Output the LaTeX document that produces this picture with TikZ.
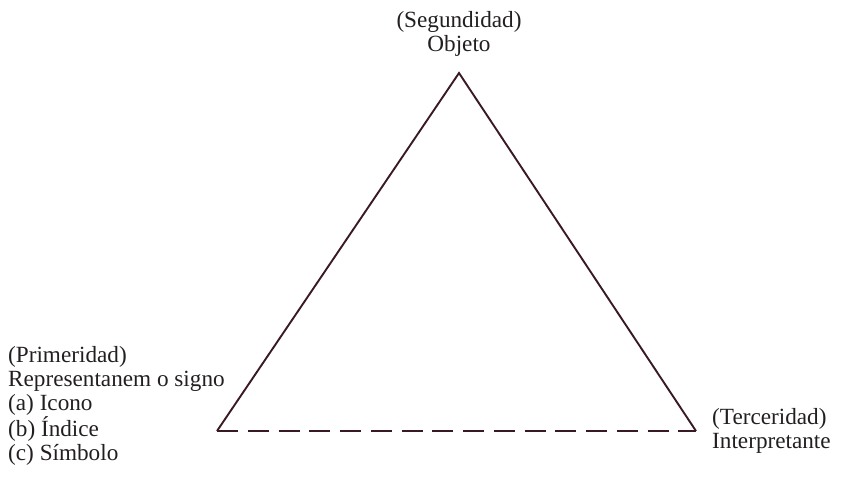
\documentclass[tikz,border=0pt]{standalone}
\usepackage{fontspec}
\setmainfont{Liberation Serif}
\definecolor{edge}{HTML}{3A1A22}
\definecolor{ink}{HTML}{231F20}
\begin{document}
\begin{tikzpicture}[x=1pt,y=-1pt,
  lbl/.style={inner sep=0pt,text=ink,font=\fontsize{23.2}{24}\selectfont},
  side/.style={draw=edge,line width=1.9pt,line join=miter},
  base/.style={draw=edge,line width=1.9pt,dash pattern=on 21pt off 9.75pt}]
\useasboundingbox (0,0) rectangle (844,480);
\coordinate (top) at (459,73);
\coordinate (left) at (217,431);
\coordinate (right) at (696,431);
\path[side] (left) -- (top) -- (right);
\path[base] (left) -- (right);
\node[lbl,align=center,anchor=north] (obj) at (459,11) {(Segundidad)\\Objeto};
\node[lbl,align=left,anchor=north west] (rep) at (8,346) {(Primeridad)\\Representanem o signo\\(a) Icono\\(b) Índice\\(c) Símbolo};
\node[lbl,align=left,anchor=north west] (int) at (712,408) {(Terceridad)\\Interpretante};
\end{tikzpicture}
\end{document}
